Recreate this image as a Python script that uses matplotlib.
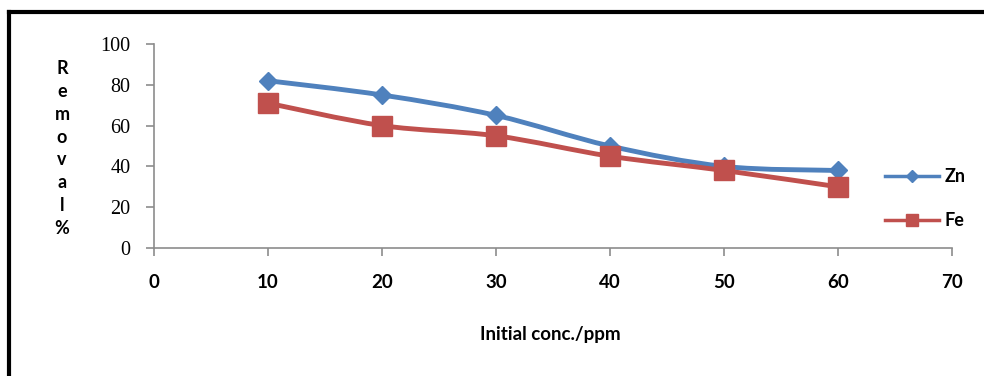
import matplotlib
matplotlib.use("Agg")
import matplotlib.pyplot as plt
import numpy as np
from matplotlib.path import Path
from matplotlib.patches import PathPatch
from matplotlib.lines import Line2D

### Data

conc = [10, 20, 30, 40, 50, 60]
zn_removal = [82, 75, 65, 50, 40, 38]
fe_removal = [71, 60, 55, 45, 38, 30]

x_ticks = [0, 10, 20, 30, 40, 50, 60, 70]
y_ticks = [0, 20, 40, 60, 80, 100]

BLUE = "#4F81BD"
RED = "#C0504D"
AXIS_GREY = "#8C8C8C"
SANS = "Lato"

### Smoothed line like the spreadsheet "smooth line" option

def smooth_path(xs, ys, tension=1/6):
    pts = np.column_stack([xs, ys]).astype(float)
    verts = [pts[0]]
    codes = [Path.MOVETO]
    n = len(pts)
    for i in range(n - 1):
        p0 = pts[i - 1] if i > 0 else pts[i]
        p1 = pts[i]
        p2 = pts[i + 1]
        p3 = pts[i + 2] if i + 2 < n else pts[i + 1]
        c1 = p1 + (p2 - p0) * tension
        c2 = p2 - (p3 - p1) * tension
        verts += [c1, c2, p2]
        codes += [Path.CURVE4] * 3
    return Path(verts, codes)

fig = plt.figure(figsize=(9.84, 3.76), dpi=100)
ax = fig.add_axes([0.1565, 0.3404, 0.811, 0.5426])

for ys, color, marker, ms in [(zn_removal, BLUE, "D", 9.5), (fe_removal, RED, "s", 14)]:
    ax.add_patch(PathPatch(smooth_path(conc, ys), facecolor="none",
                           edgecolor=color, lw=3.5, capstyle="round", zorder=2))
    ax.plot(conc, ys, linestyle="none", marker=marker, ms=ms, color=color,
            markeredgecolor=color, zorder=3)

ax.set_xlim(0, 70)
ax.set_ylim(0, 100)
ax.set_xticks(x_ticks)
ax.set_yticks(y_ticks)

for side in ["top", "right"]:
    ax.spines[side].set_visible(False)
for side in ["left", "bottom"]:
    ax.spines[side].set_color(AXIS_GREY)
    ax.spines[side].set_linewidth(1.2)

ax.tick_params(axis="both", direction="out", length=6, width=1.2, color=AXIS_GREY)
ax.tick_params(axis="x", pad=13)
ax.tick_params(axis="y", pad=11)

for lab in ax.get_yticklabels():
    lab.set_fontfamily("Liberation Serif")
    lab.set_fontsize(14.5)
for lab in ax.get_xticklabels():
    lab.set_fontfamily(SANS)
    lab.set_fontweight("bold")
    lab.set_fontsize(13.5)

fig.text(0.5595, 0.11, "Initial conc./ppm", ha="center", va="center",
         fontsize=13.5, fontweight="bold", family=SANS)

fig.text(0.063, 0.605, "R\ne\nm\no\nv\na\nl\n%", ha="center", va="center",
         fontsize=13, fontweight="bold", family=SANS, linespacing=1.42)

handles = [
    Line2D([], [], color=BLUE, lw=2.5, marker="D", ms=6),
    Line2D([], [], color=RED, lw=2.5, marker="s", ms=9),
]
fig.legend(handles, ["Zn", "Fe"], loc="center left", bbox_to_anchor=(0.883, 0.472),
           frameon=False, handlelength=3.0, handletextpad=0.3, labelspacing=1.5,
           prop={"family": SANS, "weight": "bold", "size": 13})

### Outer frame (top and left edges only)

fig.add_artist(Line2D([0.0095, 0.0095], [0, 0.968], color="black", lw=3,
                      transform=fig.transFigure, solid_capstyle="projecting"))
fig.add_artist(Line2D([0.0095, 1.0], [0.968, 0.968], color="black", lw=3,
                      transform=fig.transFigure, solid_capstyle="projecting"))

fig.savefig("out.png", dpi=100, facecolor="white")
